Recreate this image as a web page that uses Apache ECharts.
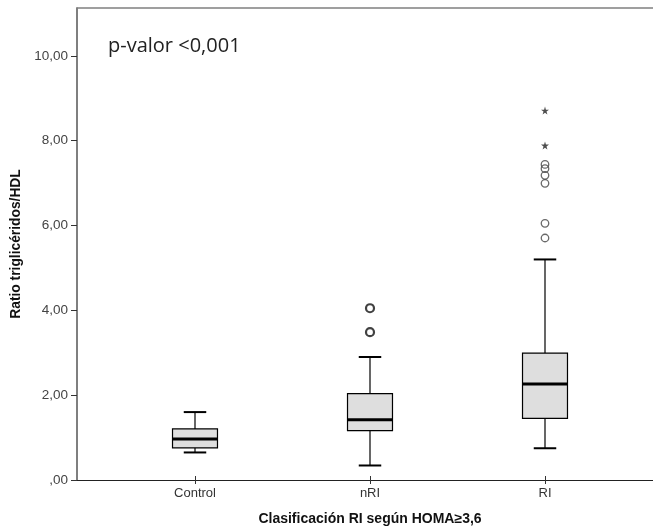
<!DOCTYPE html>
<html>
<head>
<meta charset="utf-8">
<script src="https://cdn.jsdelivr.net/npm/echarts@6/dist/echarts.min.js"></script>
<style>html,body{margin:0;padding:0;background:#fff;}#c{width:653px;height:531px;}</style>
</head>
<body>
<div id="c"></div>
<script>
var categories = ['Control', 'nRI', 'RI'];
// [low whisker, Q1, median, Q3, high whisker]
var boxValues = [
  [0.56, 0.67, 0.88, 1.12, 1.52],
  [0.25, 1.08, 1.34, 1.96, 2.83],
  [0.66, 1.37, 2.19, 2.92, 5.15]
];
var outliersNRI = [[1, 3.99], [1, 3.42]];
var outliersRI = [[2, 7.41], [2, 7.31], [2, 7.15], [2, 6.96], [2, 6.01], [2, 5.66]];
var extremesRI = [[2, 8.69], [2, 7.86]];
var yTicks = [0, 2, 4, 6, 8, 10];
var yMax = 11.13;

var chart = echarts.init(document.getElementById('c'), null, {renderer: 'canvas'});
var fmt = function (v) { return v === 0 ? ',00' : v.toFixed(2).replace('.', ','); };
var starPath = 'path://M50,0 L61,35 L98,35 L68,57 L79,91 L50,70 L21,91 L32,57 L2,35 L39,35 Z';

var boxData = boxValues.map(function (b, i) { return [i].concat(b); });

chart.setOption({
  animation: false,
  backgroundColor: '#fff',
  title: {
    text: 'p-valor <0,001',
    left: 103, top: 31,
    textStyle: {fontFamily: 'Open Sans', fontSize: 20, fontWeight: 'normal', color: '#222'}
  },
  grid: [
    {left: 77, right: 0, top: 8, bottom: 51},
    {left: 107.5, right: 20.5, top: 8, bottom: 51}
  ],
  xAxis: [
    {gridIndex: 0, type: 'value', min: 0, max: 1, position: 'bottom',
     axisLine: {show: true, lineStyle: {color: '#222', width: 1}},
     axisTick: {show: false}, axisLabel: {show: false}, splitLine: {show: false}},
    {gridIndex: 0, type: 'value', min: 0, max: 1, position: 'top',
     axisLine: {show: true, lineStyle: {color: '#808080', width: 1.5}},
     axisTick: {show: false}, axisLabel: {show: false}, splitLine: {show: false}},
    {gridIndex: 1, type: 'category', data: categories, position: 'bottom',
     axisLine: {show: false},
     axisTick: {show: true, alignWithLabel: true, length: 8, lineStyle: {color: '#333'}},
     axisLabel: {margin: 11, fontFamily: 'Liberation Sans', fontSize: 13, color: '#333'},
     name: 'Clasificación RI según HOMA≥3,6', nameLocation: 'middle', nameGap: 36,
     nameTextStyle: {fontFamily: 'Liberation Sans', fontSize: 14, fontWeight: 'bold', color: '#111'},
     splitLine: {show: false}}
  ],
  yAxis: [
    {gridIndex: 0, type: 'value', min: 0, max: yMax,
     axisLine: {show: true, lineStyle: {color: '#555', width: 1.5}},
     axisTick: {show: true, length: 6, customValues: yTicks, lineStyle: {color: '#333'}},
     axisLabel: {customValues: yTicks, formatter: fmt, margin: 9, fontFamily: 'Liberation Sans', fontSize: 13.5, color: '#444'},
     splitLine: {show: false},
     name: 'Ratio triglicéridos/HDL', nameLocation: 'middle', nameGap: 54,
     nameTextStyle: {fontFamily: 'Liberation Sans', fontSize: 13.8, fontWeight: 'bold', color: '#111'}},
    {gridIndex: 1, type: 'value', min: 0, max: yMax, show: false}
  ],
  series: [
    {
      type: 'custom', xAxisIndex: 2, yAxisIndex: 1,
      data: boxData,
      encode: {x: 0, y: [1, 2, 3, 4, 5]},
      renderItem: function (params, api) {
        var c = api.value(0);
        var band = api.size([1, 0])[0];
        var bw = band * 0.257;
        var cw = bw / 2;
        var pLow = api.coord([c, api.value(1)]);
        var pQ1 = api.coord([c, api.value(2)]);
        var pMed = api.coord([c, api.value(3)]);
        var pQ3 = api.coord([c, api.value(4)]);
        var pHigh = api.coord([c, api.value(5)]);
        var x = pMed[0];
        var line = {stroke: '#000', lineWidth: 1.2};
        return {
          type: 'group',
          children: [
            {type: 'line', shape: {x1: x, y1: pQ3[1], x2: x, y2: pHigh[1]}, style: line},
            {type: 'line', shape: {x1: x, y1: pQ1[1], x2: x, y2: pLow[1]}, style: line},
            {type: 'line', shape: {x1: x - cw / 2, y1: pHigh[1], x2: x + cw / 2, y2: pHigh[1]}, style: {stroke: '#000', lineWidth: 2}},
            {type: 'line', shape: {x1: x - cw / 2, y1: pLow[1], x2: x + cw / 2, y2: pLow[1]}, style: {stroke: '#000', lineWidth: 2}},
            {type: 'rect', shape: {x: x - bw / 2, y: pQ3[1], width: bw, height: pQ1[1] - pQ3[1]},
             style: {fill: '#dedede', stroke: '#000', lineWidth: 1.2}},
            {type: 'line', shape: {x1: x - bw / 2, y1: pMed[1], x2: x + bw / 2, y2: pMed[1]}, style: {stroke: '#000', lineWidth: 3}}
          ]
        };
      }
    },
    {
      type: 'scatter', xAxisIndex: 2, yAxisIndex: 1, data: outliersNRI,
      symbol: 'circle', symbolSize: 8,
      itemStyle: {color: '#fff', borderColor: '#111', borderWidth: 2.2}
    },
    {
      type: 'scatter', xAxisIndex: 2, yAxisIndex: 1, data: outliersRI,
      symbol: 'circle', symbolSize: 7.5,
      itemStyle: {color: 'rgba(255,255,255,0)', borderColor: '#444', borderWidth: 1.3}
    },
    {
      type: 'scatter', xAxisIndex: 2, yAxisIndex: 1, data: extremesRI,
      symbol: starPath, symbolSize: 8,
      itemStyle: {color: '#222'}
    }
  ]
});
</script>
</body>
</html>
